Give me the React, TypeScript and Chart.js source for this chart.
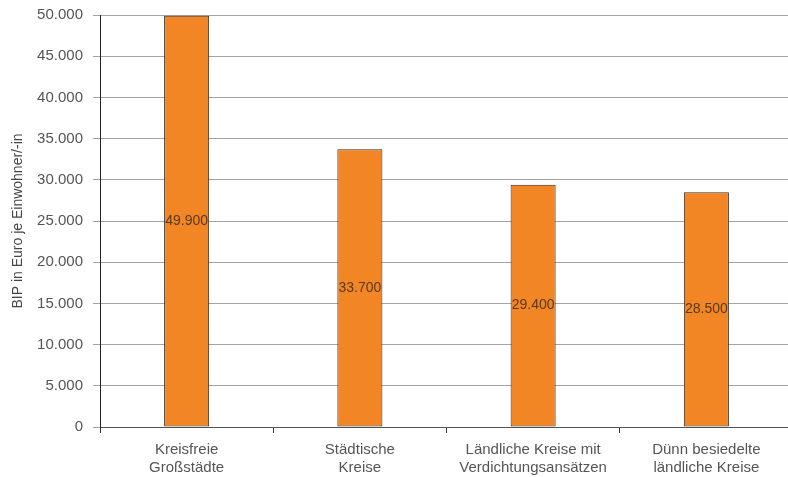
import React, { useEffect, useRef } from "react";
import { Chart, registerables } from "chart.js";

Chart.register(...registerables);

const categories: string[][] = [
  ["Kreisfreie", "Großstädte"],
  ["Städtische", "Kreise"],
  ["Ländliche Kreise mit", "Verdichtungsansätzen"],
  ["Dünn besiedelte", "ländliche Kreise"],
];
const values: number[] = [49900, 33700, 29400, 28500];
const yTitle = "BIP in Euro je Einwohner/-in";
const yMin = 0;
const yMax = 50000;
const yStep = 5000;

const fmt = (v: number) => {
  const s = Math.round(v).toString();
  return s.replace(/\B(?=(\d{3})+(?!\d))/g, ".");
};

const FONT = "'Liberation Sans', Arial, sans-serif";

const labelPlugin = {
  id: "barLabels",
  afterDatasetsDraw(chart: any) {
    const ctx = chart.ctx;
    const meta = chart.getDatasetMeta(0);
    ctx.save();
    ctx.font = `14px ${FONT}`;
    ctx.fillStyle = "#5b3a1e";
    ctx.textAlign = "center";
    ctx.textBaseline = "middle";
    meta.data.forEach((bar: any, i: number) => {
      const y = (bar.y + bar.base) / 2;
      ctx.fillText(fmt(values[i]), bar.x, y);
    });
    ctx.restore();
  },
};

export default function App() {
  const ref = useRef<HTMLCanvasElement | null>(null);
  useEffect(() => {
    document.body.style.margin = "0";
    const chart = new Chart(ref.current!, {
      type: "bar",
      data: {
        labels: categories,
        datasets: [
          {
            data: values,
            backgroundColor: "#F28524",
            borderColor: "#3a2a1a",
            borderWidth: 1,
            borderSkipped: false,
            categoryPercentage: 1,
            barPercentage: 0.26,
          },
        ],
      },
      options: {
        animation: false,
        responsive: false,
        maintainAspectRatio: false,
        layout: { padding: { top: 15, left: 0, right: 0, bottom: 0 } },
        plugins: {
          legend: { display: false },
          tooltip: { enabled: false },
        },
        scales: {
          x: {
            grid: {
              display: true,
              drawOnChartArea: false,
              drawTicks: true,
              tickLength: 6,
              color: "#333",
              offset: true,
            },
            border: { display: true, color: "#555", width: 1 },
            ticks: {
              font: { family: FONT, size: 15 },
              color: "#555",
              padding: 8,
              maxRotation: 0,
              autoSkip: false,
            },
            afterFit: (s: any) => {
              s.height = 50;
              s.paddingLeft = 0;
              s.paddingRight = 0;
            },
          },
          y: {
            min: yMin,
            max: yMax,
            grid: {
              color: "#a3a3a3",
              tickLength: 7,
              lineWidth: 1,
            },
            border: { display: true, color: "#222", width: 1 },
            ticks: {
              stepSize: yStep,
              font: { family: FONT, size: 15 },
              color: "#555",
              padding: 10,
              callback: (v: any) => fmt(Number(v)),
            },
            title: {
              display: true,
              text: yTitle,
              font: { family: FONT, size: 14 },
              color: "#444",
              padding: { top: 10, bottom: 0 },
            },
            afterFit: (s: any) => {
              s.width = 100;
              s.paddingTop = 0;
              s.paddingBottom = 0;
            },
          },
        },
      },
      plugins: [labelPlugin],
    });
    return () => chart.destroy();
  }, []);
  return (
    <div style={{ width: 788, height: 477, overflow: "hidden", position: "relative" }}>
      <canvas ref={ref} width={793} height={477} style={{ display: "block", width: 793, height: 477 }} />
    </div>
  );
}
